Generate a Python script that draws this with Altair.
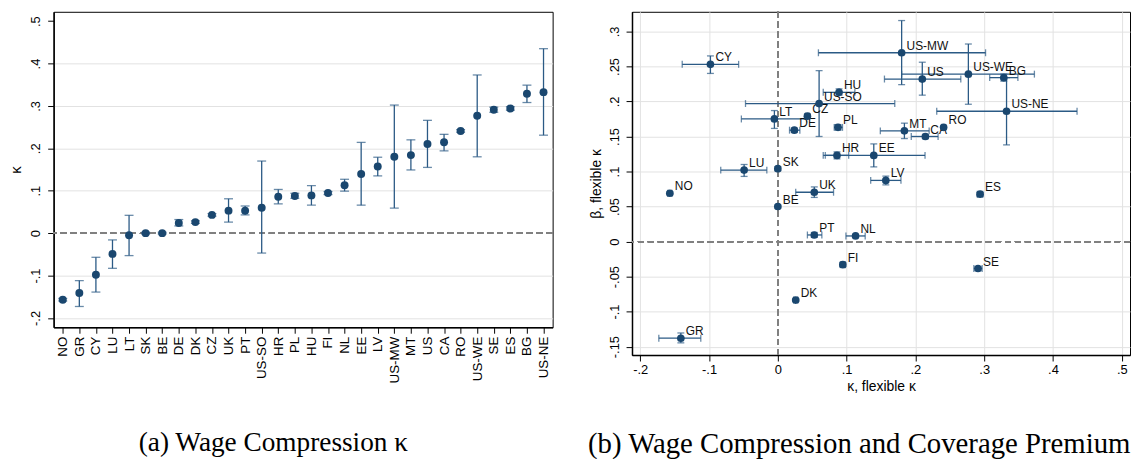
import altair as alt
import pandas as pd

countries = ["NO", "GR", "CY", "LU", "LT", "SK", "BE", "DE", "DK", "CZ",
             "UK", "PT", "US-SO", "HR", "PL", "HU", "FI", "NL", "EE", "LV",
             "US-MW", "MT", "US", "CA", "RO", "US-WE", "SE", "ES", "BG", "US-NE"]
kappa = [-0.157, -0.141, -0.098, -0.049, -0.005, 0.000, 0.000, 0.024, 0.026, 0.043,
         0.053, 0.053, 0.060, 0.086, 0.0875, 0.089, 0.0945, 0.113, 0.1395, 0.157,
         0.180, 0.184, 0.210, 0.2145, 0.241, 0.277, 0.291, 0.294, 0.3285, 0.3325]
kappa_lo = [-0.160, -0.173, -0.139, -0.083, -0.053, -0.002, -0.002, 0.017, 0.023, 0.040,
            0.026, 0.043, -0.047, 0.069, 0.082, 0.066, 0.091, 0.099, 0.066, 0.135,
            0.059, 0.149, 0.155, 0.194, 0.238, 0.180, 0.285, 0.290, 0.308, 0.231]
kappa_hi = [-0.154, -0.112, -0.057, -0.016, 0.042, 0.002, 0.002, 0.032, 0.029, 0.046,
            0.081, 0.064, 0.170, 0.103, 0.094, 0.112, 0.098, 0.127, 0.214, 0.179,
            0.302, 0.220, 0.266, 0.233, 0.244, 0.373, 0.297, 0.298, 0.349, 0.435]
beta = [0.069, -0.138, 0.253, 0.102, 0.175, 0.104, 0.050, 0.159, -0.0835, 0.179,
        0.0704, 0.0094, 0.197, 0.123, 0.163, 0.213, -0.033, 0.008, 0.123, 0.0873,
        0.2695, 0.158, 0.232, 0.150, 0.163, 0.239, -0.0385, 0.0676, 0.234, 0.186]
beta_lo = [0.067, -0.1446, 0.240, 0.093, 0.1615, 0.101, 0.048, 0.156, -0.085, 0.176,
           0.063, 0.006, 0.150, 0.118, 0.159, 0.209, -0.036, 0.006, 0.1066, 0.081,
           0.224, 0.147, 0.209, 0.147, 0.161, 0.196, -0.041, 0.065, 0.229, 0.138]
beta_hi = [0.071, -0.1305, 0.265, 0.110, 0.187, 0.107, 0.052, 0.162, -0.082, 0.182,
           0.078, 0.013, 0.244, 0.128, 0.167, 0.218, -0.030, 0.010, 0.1394, 0.0934,
           0.3155, 0.169, 0.256, 0.153, 0.165, 0.282, -0.036, 0.070, 0.239, 0.234]

ticks_a = [-0.2, -0.1, 0, 0.1, 0.2, 0.3, 0.4, 0.5]
ticks_bx = [-0.2, -0.1, 0, 0.1, 0.2, 0.3, 0.4, 0.5]
ticks_by = [-0.15, -0.1, -0.05, 0, 0.05, 0.1, 0.15, 0.2, 0.25, 0.3]

df = pd.DataFrame({"country": countries, "kappa": kappa, "klo": kappa_lo,
                   "khi": kappa_hi, "beta": beta, "blo": beta_lo, "bhi": beta_hi})

NAVY = "#1a476f"
BAR = "#2b5a85"
FONT = "Liberation Sans"
SERIF = "Liberation Serif"
stata = "(datum.value < 0 ? '-' : '') + replace(format(abs(datum.value), '.2~f'), '0.', '.')"

# ---------------- panel (a) ----------------
ax_xa = alt.Axis(title=None, labelAngle=270, labelAlign="right", labelBaseline="middle",
                 labelFontSize=13.5, labelPadding=3, tickSize=6, grid=False)
ax_ya = alt.Axis(values=ticks_a, labelExpr=stata, title="κ", titleFontSize=15,
                 titlePadding=6, labelAngle=270, labelAlign="center", labelBaseline="bottom",
                 labelFontSize=13, labelPadding=5, tickSize=6, grid=True,
                 gridOpacity={"condition": {"test": "datum.value == 0 || datum.value > 0.45", "value": 0}, "value": 1})
sx_a = alt.Scale(type="point", padding=0.55)
sy_a = alt.Scale(domain=[-0.222, 0.522], nice=False, zero=False)

base_a = alt.Chart(df)
xa = alt.X("country:N", sort=countries, scale=sx_a, axis=ax_xa)
zero_a = base_a.mark_rule(color="#808080", strokeDash=[6, 4], strokeWidth=1.2).encode(
    y=alt.datum(0, scale=sy_a, axis=ax_ya))
bars_a = base_a.mark_rule(color=BAR, strokeWidth=1.3).encode(
    x=xa, y=alt.Y("klo:Q", scale=sy_a, axis=ax_ya), y2="khi:Q")
cap_lo_a = base_a.mark_tick(color=BAR, orient="horizontal", size=9, thickness=1.3).encode(
    x=xa, y=alt.Y("klo:Q", scale=sy_a, axis=ax_ya))
cap_hi_a = base_a.mark_tick(color=BAR, orient="horizontal", size=9, thickness=1.3).encode(
    x=xa, y=alt.Y("khi:Q", scale=sy_a, axis=ax_ya))
pts_a = base_a.mark_circle(color=NAVY, size=64, opacity=1).encode(
    x=xa, y=alt.Y("kappa:Q", scale=sy_a, axis=ax_ya))

panel_a = alt.layer(zero_a, bars_a, cap_lo_a, cap_hi_a, pts_a).properties(
    width=503, height=318,
    title=alt.TitleParams("(a) Wage Compression κ", orient="bottom", anchor="middle",
                          font=SERIF, fontSize=27.5, fontWeight="normal", color="black",
                          offset=46, dx=-30))

# ---------------- panel (b) ----------------
gridcond = {"condition": {"test": "datum.value == 0", "value": 0}, "value": 1}
ax_xb = alt.Axis(values=ticks_bx, labelExpr=stata, title="κ, flexible κ", titleFontSize=14,
                 titlePadding=3, labelFontSize=13, labelPadding=3, tickSize=6, grid=True,
                 gridOpacity=gridcond)
ax_yb = alt.Axis(values=ticks_by, labelExpr=stata, title="β, flexible κ", titleFontSize=14,
                 titlePadding=5, labelAngle=270, labelAlign="center", labelBaseline="bottom",
                 labelFontSize=13, labelPadding=5, tickSize=6, grid=True, gridOpacity=gridcond)
sx_b = alt.Scale(domain=[-0.212, 0.512], nice=False, zero=False)
sy_b = alt.Scale(domain=[-0.162, 0.328], nice=False, zero=False)

base_b = alt.Chart(df)
zero_bx = base_b.mark_rule(color="#808080", strokeDash=[6, 4], strokeWidth=1.2).encode(
    x=alt.datum(0, scale=sx_b, axis=ax_xb))
zero_by = base_b.mark_rule(color="#808080", strokeDash=[6, 4], strokeWidth=1.2).encode(
    y=alt.datum(0, scale=sy_b, axis=ax_yb))
hbar = base_b.mark_rule(color=BAR, strokeWidth=1.3).encode(
    x=alt.X("klo:Q", scale=sx_b, axis=ax_xb), x2="khi:Q",
    y=alt.Y("beta:Q", scale=sy_b, axis=ax_yb))
hcap_lo = base_b.mark_tick(color=BAR, orient="vertical", size=7, thickness=1.3).encode(
    x=alt.X("klo:Q", scale=sx_b, axis=ax_xb), y=alt.Y("beta:Q", scale=sy_b, axis=ax_yb))
hcap_hi = base_b.mark_tick(color=BAR, orient="vertical", size=7, thickness=1.3).encode(
    x=alt.X("khi:Q", scale=sx_b, axis=ax_xb), y=alt.Y("beta:Q", scale=sy_b, axis=ax_yb))
vbar = base_b.mark_rule(color=BAR, strokeWidth=1.3).encode(
    x=alt.X("kappa:Q", scale=sx_b, axis=ax_xb),
    y=alt.Y("blo:Q", scale=sy_b, axis=ax_yb), y2="bhi:Q")
vcap_lo = base_b.mark_tick(color=BAR, orient="horizontal", size=7, thickness=1.3).encode(
    x=alt.X("kappa:Q", scale=sx_b, axis=ax_xb), y=alt.Y("blo:Q", scale=sy_b, axis=ax_yb))
vcap_hi = base_b.mark_tick(color=BAR, orient="horizontal", size=7, thickness=1.3).encode(
    x=alt.X("kappa:Q", scale=sx_b, axis=ax_xb), y=alt.Y("bhi:Q", scale=sy_b, axis=ax_yb))
labels_b = base_b.mark_text(align="left", baseline="middle", dx=5, dy=-7, fontSize=12,
                            font=FONT, color="#111111").encode(
    x=alt.X("kappa:Q", scale=sx_b, axis=ax_xb), y=alt.Y("beta:Q", scale=sy_b, axis=ax_yb),
    text="country:N")
pts_b = base_b.mark_circle(color=NAVY, size=60, opacity=1).encode(
    x=alt.X("kappa:Q", scale=sx_b, axis=ax_xb), y=alt.Y("beta:Q", scale=sy_b, axis=ax_yb))

panel_b = alt.layer(zero_bx, zero_by, hbar, hcap_lo, hcap_hi, vbar, vcap_lo, vcap_hi,
                    labels_b, pts_b).properties(
    width=502, height=346,
    title=alt.TitleParams("(b) Wage Compression and Coverage Premium", orient="bottom",
                          anchor="middle", font=SERIF, fontSize=29, fontWeight="normal",
                          color="black", offset=37, dx=-22))

chart = alt.hconcat(panel_a, panel_b, spacing=80, bounds="flush").properties(
    padding=0, background="white"
).configure_view(
    stroke="black", strokeWidth=1
).configure_axis(
    labelFont=FONT, titleFont=FONT, labelColor="black", titleColor="black",
    titleFontWeight="normal", domainColor="black", domainWidth=1.5,
    tickColor="black", tickWidth=1, gridColor="#e2e2e2", gridWidth=1
)

chart.save("out.html", embed_options={"renderer": "svg", "actions": False})
